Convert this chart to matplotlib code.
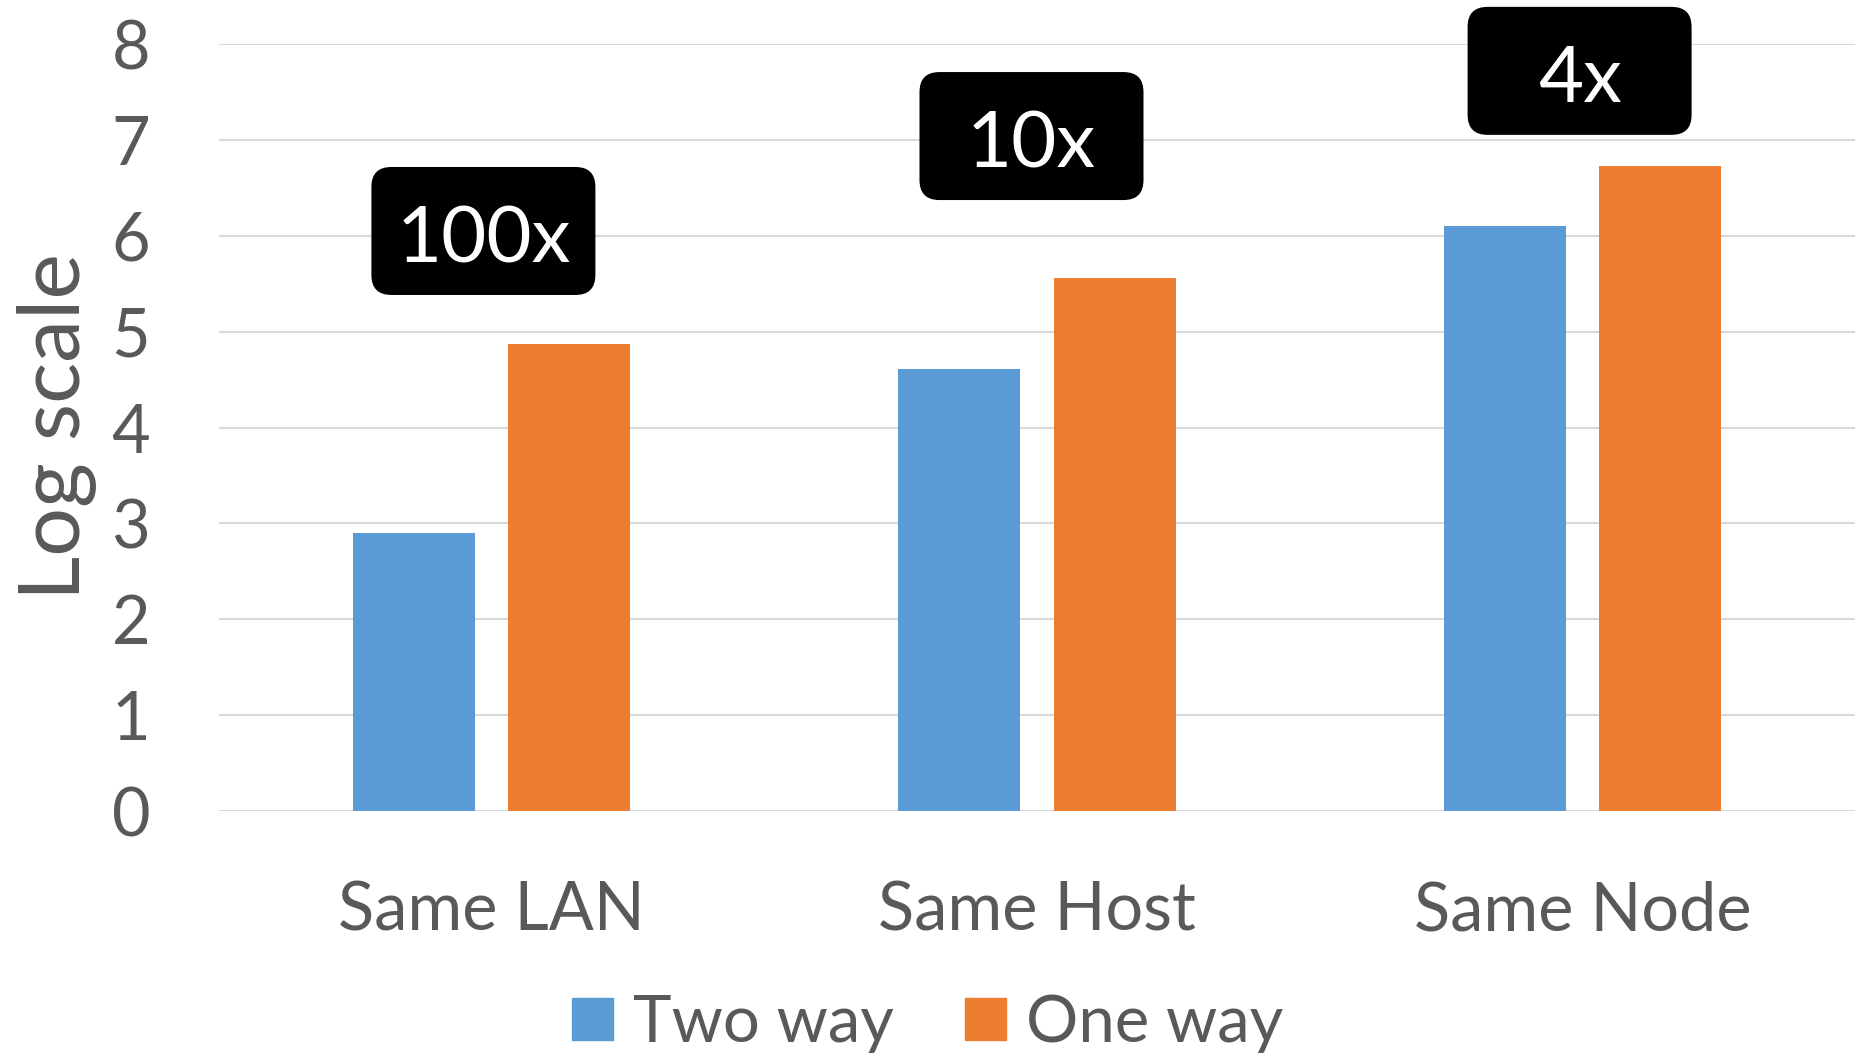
import matplotlib.pyplot as plt
from matplotlib.patches import FancyBboxPatch, Patch
from matplotlib.transforms import ScaledTranslation
import numpy as np

plt.rcParams['font.family'] = ['Lato', 'DejaVu Sans']

categories = ['Same LAN', 'Same Host', 'Same Node']
two_way = [2.9, 4.61, 6.1]
one_way = [4.87, 5.56, 6.73]
speedups = ['100x', '10x', '4x']
speedup_y = [6.05, 7.04, 7.72]

blue = '#5B9BD5'
orange = '#ED7D31'
grey_text = '#595959'

fig = plt.figure(figsize=(18.55, 10.53), dpi=100)
ax = fig.add_axes([0.118, 0.2298, 0.882, 0.7284])

x = np.arange(len(categories))
width = 0.2236
offset = 0.1423
ax.bar(x - offset, two_way, width, color=blue, zorder=3, label='Two way')
ax.bar(x + offset, one_way, width, color=orange, zorder=3, label='One way')

ax.set_xlim(-0.5, 2.5)
ax.set_ylim(0, 8)
ax.set_yticks(range(0, 9))
ax.set_xticks(x)
ax.set_xticklabels(categories)
ax.tick_params(axis='y', length=0, pad=49.5, labelsize=48, labelcolor=grey_text)
ax.tick_params(axis='x', length=0, pad=50, labelsize=48, labelcolor=grey_text)
for s in ax.spines.values():
    s.set_visible(False)
ax.yaxis.grid(True, color='#D9D9D9', linewidth=1.5, zorder=0)
ax.set_axisbelow(True)

fig.text(56 / 1855, 1 - 426 / 1053, 'Log scale', fontsize=62, color=grey_text,
         rotation=90, ha='center', va='center')

# black rounded callouts with the speedup factor
bw, bh = 2.24, 1.28
box_shift = [-0.015, -0.01, -0.005]
for xi, dx, yi, txt in zip(x, box_shift, speedup_y, speedups):
    bx = xi + dx
    tr = fig.dpi_scale_trans + ScaledTranslation(bx, yi, ax.transData)
    box = FancyBboxPatch((-bw / 2, -bh / 2), bw, bh,
                         boxstyle='round,pad=0,rounding_size=0.2',
                         facecolor='black', edgecolor='none',
                         transform=tr, clip_on=False, zorder=5)
    ax.add_patch(box)
    ax.text(bx, yi - 0.1, txt, color='white', fontsize=56, ha='center',
            va='center', zorder=6, clip_on=False)

handles = [Patch(color=blue, label='Two way'), Patch(color=orange, label='One way')]
fig.legend(handles=handles, loc='center', bbox_to_anchor=(0.5, 0.028),
           ncol=2, frameon=False, fontsize=47, labelcolor=grey_text,
           handlelength=0.63, handleheight=0.63, handletextpad=0.3,
           columnspacing=1.1)

fig.savefig('out.png', dpi=100)
